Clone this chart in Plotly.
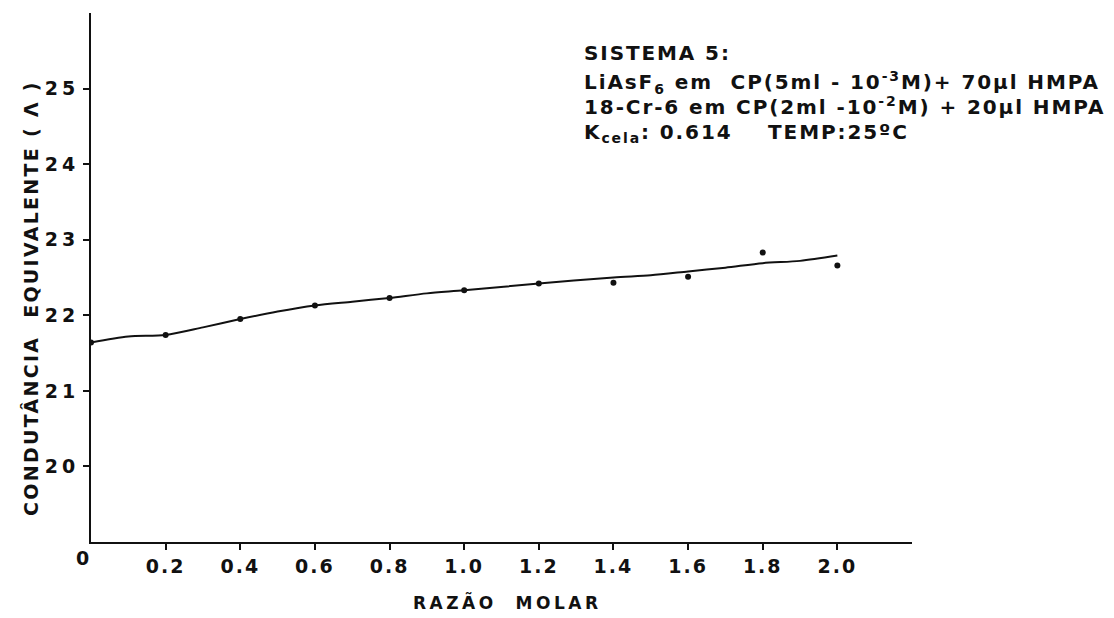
import plotly.graph_objects as go

# measured points
razao = [0, 0.2, 0.4, 0.6, 0.8, 1.0, 1.2, 1.4, 1.6, 1.8, 2.0]
condutancia = [21.64, 21.74, 21.95, 22.13, 22.23, 22.33, 22.42, 22.43, 22.51, 22.83, 22.66]

# hand-drawn smooth curve
curva_x = [0, 0.1, 0.2, 0.3, 0.4, 0.5, 0.6, 0.7, 0.8, 0.9, 1.0, 1.2, 1.4, 1.5, 1.6, 1.7, 1.8, 1.9, 2.0]
curva_y = [21.64, 21.72, 21.74, 21.84, 21.95, 22.05, 22.13, 22.18, 22.23, 22.29, 22.33, 22.42, 22.50,
           22.53, 22.58, 22.63, 22.69, 22.72, 22.79]

x_ticks = [0.2, 0.4, 0.6, 0.8, 1.0, 1.2, 1.4, 1.6, 1.8, 2.0]
x_ticklabels = ["0.2", "0.4", "0.6", "0.8", "1.0", "1.2", "1.4", "1.6", "1.8", "2.0"]
y_ticks = [20, 21, 22, 23, 24, 25]
y_ticklabels = ["20", "21", "22", "23", "24", "25"]

FONT = "DejaVu Sans"
INK = "#111111"


def spaced(t, ls):
    return '<span style="letter-spacing:%spx">%s</span>' % (ls, t)


fig = go.Figure()
fig.add_trace(go.Scatter(x=curva_x, y=curva_y, mode="lines",
                         line=dict(color=INK, width=2, shape="spline", smoothing=0.8),
                         hoverinfo="skip", showlegend=False))
fig.add_trace(go.Scatter(x=razao, y=condutancia, mode="markers",
                         marker=dict(color=INK, size=6), showlegend=False))

fig.update_layout(
    width=1114, height=618,
    margin=dict(l=91, r=202, t=13, b=76),
    paper_bgcolor="white", plot_bgcolor="white",
    font=dict(family=FONT, color=INK),
    xaxis=dict(range=[0, 2.2], showgrid=False, zeroline=False,
               showline=True, linecolor=INK, linewidth=2,
               ticks="outside", ticklen=6, tickwidth=2, tickcolor=INK,
               tickvals=x_ticks, ticktext=[spaced(t, 2) for t in x_ticklabels],
               tickfont=dict(family=FONT, size=19, color=INK, weight="bold")),
    yaxis=dict(range=[19, 26], showgrid=False, zeroline=False,
               showline=True, linecolor=INK, linewidth=2,
               ticks="outside", ticklen=6, tickwidth=2, tickcolor=INK,
               tickvals=y_ticks, ticktext=[spaced(t, 4) for t in y_ticklabels],
               tickfont=dict(family=FONT, size=19, color=INK, weight="bold")),
)


def px_x(p):
    return (p - 91) / 821.0


def px_y(p):
    return (542 - p) / 529.0


ann = []
# origin label
ann.append(dict(x=px_x(82), y=px_y(558), xref="paper", yref="paper", text="0", showarrow=False,
                xanchor="center", yanchor="middle",
                font=dict(family=FONT, size=19, color=INK, weight="bold")))
# axis titles
ann.append(dict(x=px_x(507), y=px_y(602), xref="paper", yref="paper",
                text=spaced("RAZÃO\u00a0\u00a0MOLAR", 3.5),
                xanchor="center", yanchor="middle",
                showarrow=False, font=dict(family=FONT, size=17, color=INK, weight="bold")))
ann.append(dict(x=px_x(31), y=px_y(298), xref="paper", yref="paper",
                text=spaced("CONDUTÂNCIA\u00a0\u00a0EQUIVALENTE\u00a0(\u00a0Λ\u00a0)", 2.3), textangle=-90,
                xanchor="center", yanchor="middle",
                showarrow=False, font=dict(family=FONT, size=19, color=INK, weight="bold")))

info = [
    (53, "SISTEMA\u00a05:"),
    (82, "LiAsF<sub>6</sub>\u00a0em\u00a0\u00a0CP(5ml\u00a0-\u00a010<sup>-3</sup>M)+\u00a070µl\u00a0HMPA"),
    (106, "18-Cr-6\u00a0em\u00a0CP(2ml\u00a0-10<sup>-2</sup>M)\u00a0+\u00a020µl\u00a0HMPA"),
    (133, "K<sub>cela</sub>:\u00a00.614\u00a0\u00a0\u00a0\u00a0TEMP:25ºC"),
]
for py, t in info:
    ann.append(dict(x=px_x(582), y=px_y(py), xref="paper", yref="paper", text=spaced(t, 1.9),
                    xanchor="left", yanchor="middle", showarrow=False,
                    font=dict(family=FONT, size=20, color=INK, weight="bold")))

fig.update_layout(annotations=ann)
fig.write_html("out.html")
